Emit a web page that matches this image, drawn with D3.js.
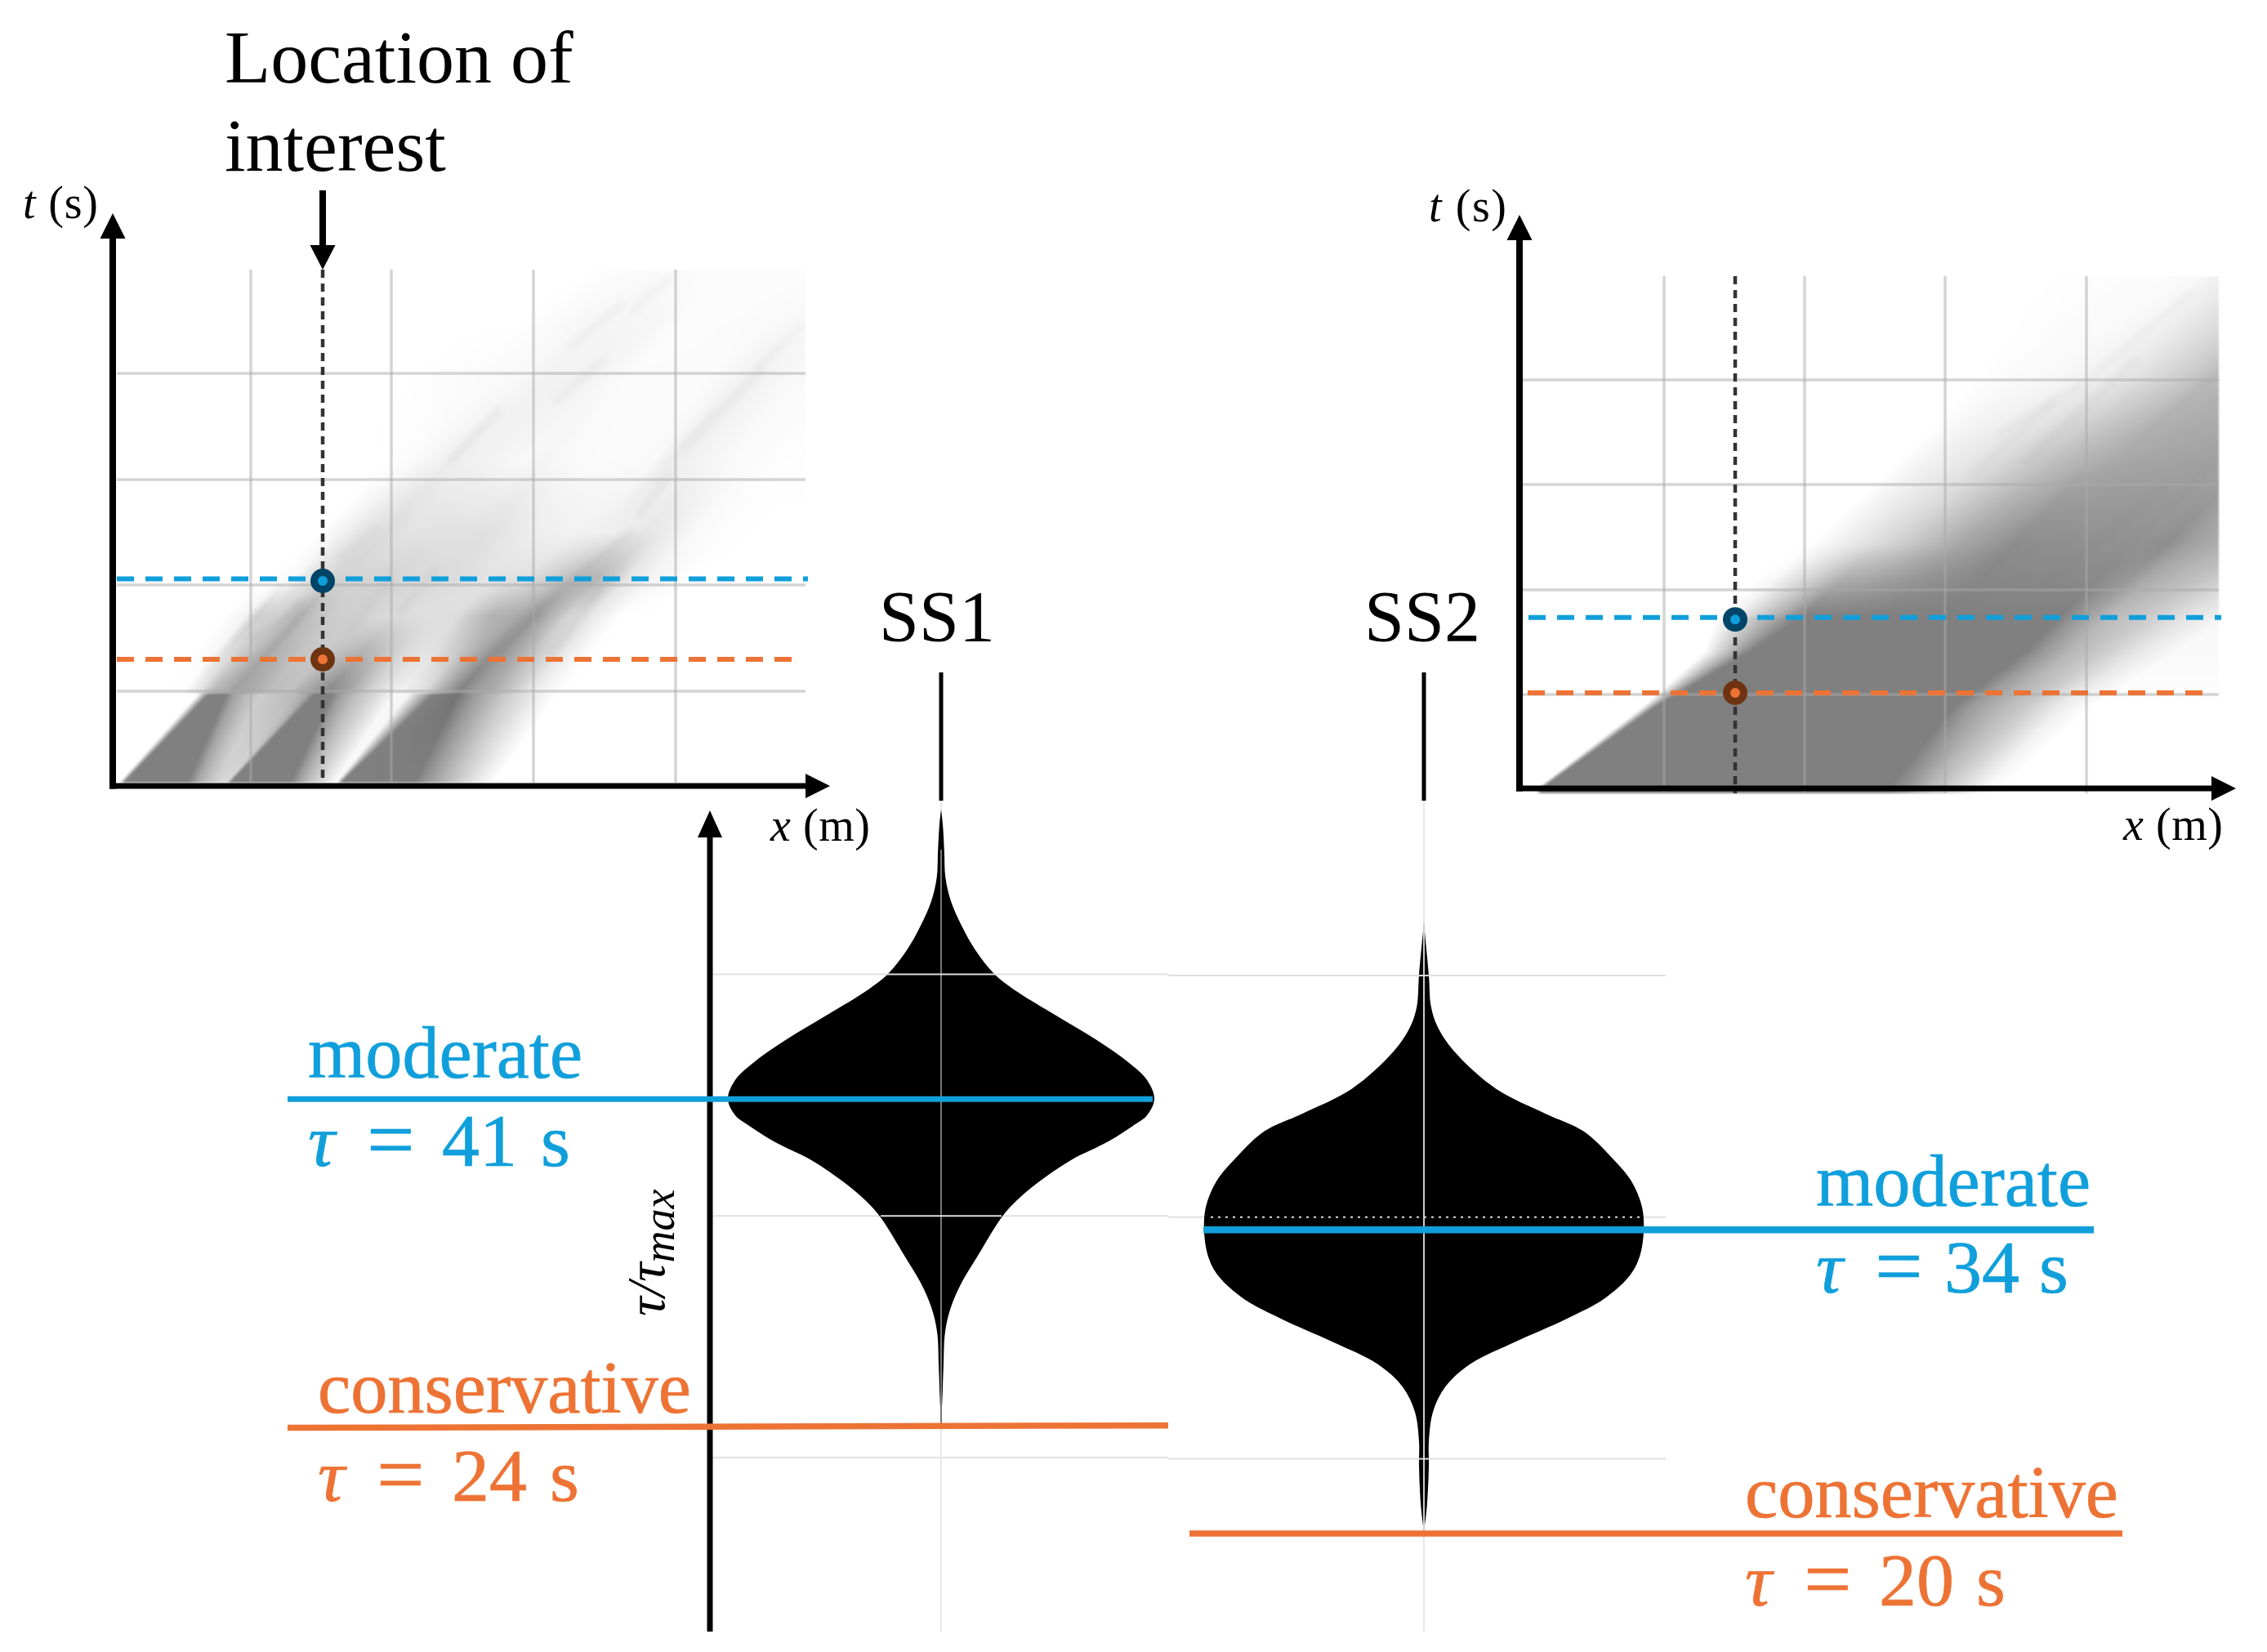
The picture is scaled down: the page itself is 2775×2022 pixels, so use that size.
<!DOCTYPE html>
<html><head><meta charset="utf-8">
<style>
html,body{margin:0;padding:0;background:#fff}
svg{display:block}
text{font-family:"Liberation Serif",serif}
</style>
<script src="https://cdn.jsdelivr.net/npm/d3@7"></script>
</head><body>
<svg id="c" width="2775" height="2022"></svg>
<script>
// ---------- space-time panels: density profiles read row by row ----------
// rows: [t, [x, density, x, density, ...]]; density 1 = the solid grey of the plumes
const gridX1 = [169, 341, 515, 689];
const gridT1 = [116, 246, 375, 505];
const gridX2 = [177, 349, 521, 694];
const gridT2 = [115, 243, 372, 500];
const tauLine1 = [155, 253.5];
const tauLine2 = [117, 209.3];

// lower block: knots move from row to row
const p1Lower = [
  [0,  [3,0, 9,1, 89,1, 102,.67, 115,.47, 125,.35, 134,.28, 135,.28, 139,1, 215,1, 222,.8, 235,.53, 255,.24, 268,.05, 270,.05, 274,1, 367,1, 374,.9, 397,.63, 422,.37, 447,.13, 465,0]],
  [113,[104,0, 117,1, 139,1, 148,.75, 165,.53, 180,.4, 225,.55, 238,.7, 247,1, 268,1, 279,.75, 295,.53, 312,.4, 345,.05, 362,.08, 393,1, 422,1.1, 442,.8, 462,.6, 482,.4, 522,.13, 545,0]]
];
// upper block: rows blended along the streak direction
const p1Upper = [
  [115,[85,0, 102,.18, 119,.53, 145,.75, 169,.67, 189,.53, 215,.5, 235,.7, 262,.95, 285,.75, 312,.37, 335,.18, 352,.1, 379,.24, 402,.67, 422,1, 439,.8, 462,.67, 489,.4, 509,.18, 535,.05, 555,0]],
  [208,[135,0, 162,.1, 175,.4, 202,.35, 229,.65, 242,.5, 269,.4, 302,.36, 335,.3, 369,.26, 402,.25, 422,.28, 442,.45, 462,.6, 489,.65, 515,.8, 535,.6, 555,.35, 582,.2, 602,.1, 622,0]],
  [254,[189,0, 222,.05, 235,.2, 269,.35, 302,.33, 335,.35, 369,.3, 422,.27, 455,.22, 505,.25, 535,.4, 562,.55, 589,.6, 609,.45, 629,.2, 655,.1, 689,.03, 710,0]],
  [312,[252,0, 279,.1, 302,.2, 335,.28, 362,.22, 462,.24, 512,.14, 562,.1, 629,.14, 652,.2, 679,.15, 712,.05, 745,.02, 790,0]],
  [399,[330,0, 362,.03, 412,.13, 462,.1, 505,.05, 529,.08, 549,.05, 595,.03, 662,.05, 682,.15, 712,.1, 762,.04, 829,.01, 900,.01]],
  [499,[362,0, 395,.02, 495,.05, 529,.1, 579,.1, 629,.03, 679,.03, 729,.03, 779,.12, 829,.05, 900,.03]],
  [565,[495,0, 562,.06, 612,.08, 662,.07, 695,.02, 762,.03, 829,.06, 900,.06]],
  [632,[579,0, 629,.03, 679,.05, 729,.02, 779,.02, 900,.02]]
];
const p1Streaks = [
  [415,399,472,459,.08],[542,472,602,522,.06],[562,539,622,589,.06],[635,579,679,619,.05],
  [699,415,795,509,.05],[789,512,845,565,.04],[645,332,680,379,.08],[472,165,522,212,.12],
  [515,209,635,312,.1],[539,162,595,239,.08],[292,195,335,245,.06],[352,212,395,265,.06],
  [279,279,322,315,.06],[172,179,229,222,.12]
];

const p2Lower = [
  [0,  [20,0, 26,1, 450,1, 470,.85, 500,.55, 535,.3, 570,.05, 590,0]],
  [100,[150,0, 165,1, 530,1, 553,.78, 587,.58, 620,.42, 660,.15, 700,0]],
  [167,[225,0, 280,1, 617,1, 643,.78, 675,.56, 712,.41, 758,.18, 802,.05]],
  [210,[240,0, 345,1, 660,1, 687,.78, 720,.55, 770,.4, 820,.2, 870,.05]]
];
const p2Upper = [
  [210,[240,0, 262,.12, 285,.35, 315,.65, 345,1, 660,1, 687,.78, 720,.55, 770,.4, 820,.2, 870,.08]],
  [300,[355,0, 400,.15, 470,.4, 540,.7, 610,.9, 760,.85, 790,.9, 820,.75, 853,.65, 900,.55, 950,.4]],
  [420,[480,0, 520,.1, 587,.2, 637,.35, 687,.5, 753,.65, 787,.68, 853,.72, 900,.7, 950,.65, 1000,.6]],
  [510,[560,0, 600,.03, 653,.05, 687,.08, 720,.12, 753,.2, 787,.3, 820,.4, 853,.52, 900,.6, 950,.6]],
  [627,[640,0, 680,.01, 720,.02, 750,.03, 780,.03, 810,.04, 830,.05, 850,.1, 900,.2, 950,.3, 1000,.3]]
];
const p2Streaks = [
  [560,262,687,384,.07],[653,253,787,368,.08],[720,270,853,400,.08],[553,384,653,474,.05],
  [703,507,820,605,.05],[620,400,753,523,.06],[753,425,853,507,.06],[587,433,687,494,.05]
];

// ---------- violins: tau/tauMax and density ----------
const ss1Tau = [.9204,.9043,.8763,.8509,.8256,.8003,.775,.7505,.7327,.7082,.6829,.6592,.6406,.6212,.6043,.5933,.5772,.5578,.5349,.5155,.4986,.4588,.4309,.4056,.3802,.3439,.3126,.283];
const ss1Den = [0,.008,.015,.02,.046,.096,.161,.249,.352,.533,.724,.877,.966,1,.966,.9,.785,.609,.456,.352,.284,.172,.096,.046,.019,.011,.006,0];
const ss2Tau = [.8026,.7492,.7171,.6964,.6705,.6317,.6058,.5877,.5618,.536,.5101,.4857,.4583,.4376,.4143,.3936,.3703,.347,.3237,.2978,.2667,.2409,.1994,.1736];
const ss2Den = [0,.023,.033,.063,.141,.337,.571,.748,.875,.973,1.022,1.031,1.012,.963,.845,.669,.434,.219,.102,.043,.023,.023,.014,0];
const violinTicks = [.25,.5,.75];
const ss1Moderate = .621, ss1Conservative = [.2808,.2833];
const ss2Moderate = .4857, ss2Conservative = .1715;

const labelModerate = "moderate", labelConservative = "conservative";
const tauTexts = ["41","24","34","20"];

// ---------- drawing ----------
const BLUE="#109fdb", ORANGE="#ed7335";
const svg = d3.select("#c");
const defs = svg.append("defs");
[["b1",.9],["b2",3]].forEach(([id,s])=>{
  defs.append("filter").attr("id",id).attr("x","-5%").attr("y","-5%").attr("width","110%").attr("height","110%")
    .attr("color-interpolation-filters","sRGB")
    .append("feGaussianBlur").attr("stdDeviation",s);
});

function arrow(g,x1,y1,x2,y2,w,len,half){
  const a=Math.atan2(y2-y1,x2-x1),c=Math.cos(a),s=Math.sin(a);
  g.append("line").attr("x1",x1).attr("y1",y1).attr("x2",x2-c*len).attr("y2",y2-s*len)
    .attr("stroke","#000").attr("stroke-width",w);
  const bx=x2-c*len,by=y2-s*len;
  g.append("polygon").attr("points",[[x2,y2],[bx-s*half,by+c*half],[bx+s*half,by-c*half]].map(p=>p.join(",")).join(" "));
}

const profile=(row)=>{
  const k=row[1],xs=[],ds=[];
  for(let i=0;i<k.length;i+=2){xs.push(k[i]);ds.push(k[i+1]);}
  return d3.scaleLinear().domain(xs).range(ds).clamp(true);
};
function densityAt(cfg){
  const up=cfg.upper.map(profile);
  return function(x,tv){
    const L=cfg.lower;
    if(tv<=L[L.length-1][0]){
      let i=0; while(i<L.length-2 && tv>L[i+1][0]) i++;
      const a=L[i],b=L[i+1],f=Math.max(0,(tv-a[0])/(b[0]-a[0]));
      const k=a[1].map((v,j)=>v+(b[1][j]-v)*f);
      return profile([0,k])(x);
    }
    const U=cfg.upper; let i=0;
    while(i<U.length-2 && tv>U[i+1][0]) i++;
    const a=U[i],b=U[i+1],f=Math.min(1,Math.max(0,(tv-a[0])/(b[0]-a[0])));
    return up[i](x-(tv-a[0])/cfg.slope)*(1-f)+up[i+1](x+(b[0]-tv)/cfg.slope)*f;
  };
}

function panel(cfg){
  const x=d3.scaleLinear().domain([0,cfg.xMax]).range([cfg.x0,cfg.x0+cfg.xMax]);
  const t=d3.scaleLinear().domain([0,cfg.tMax]).range([cfg.y0,cfg.y0-cfg.tMax]);
  const g=svg.append("g");
  const L=cfg.clipL,R=cfg.x0+cfg.xMax,T=cfg.y0-cfg.tMax,B=cfg.gridB;
  const W=R-L,H=B-T;
  const cv=document.createElement("canvas");cv.width=W;cv.height=H;
  const ctx=cv.getContext("2d"),im=ctx.createImageData(W,H);
  const den=densityAt(cfg);
  for(let py=0;py<H;py++){
    const tv=Math.max(0,t.invert(T+py));
    for(let px=0;px<W;px++){
      const d=den(x.invert(L+px),tv);
      const v=Math.max(0,255-d*127),o=(py*W+px)*4;
      im.data[o]=im.data[o+1]=im.data[o+2]=v;im.data[o+3]=255;
    }
  }
  ctx.putImageData(im,0,0);
  g.append("image").attr("x",L).attr("y",T).attr("width",W).attr("height",H)
    .attr("href",cv.toDataURL()).attr("filter","url(#b1)");
  // fine streaks
  const cid="clip"+cfg.id;
  defs.append("clipPath").attr("id",cid).append("rect").attr("x",L).attr("y",T).attr("width",W).attr("height",H);
  g.append("g").attr("clip-path",`url(#${cid})`).append("g").attr("filter","url(#b2)")
    .selectAll("line").data(cfg.streaks).join("line")
    .attr("x1",d=>x(d[0])).attr("y1",d=>t(d[1])).attr("x2",d=>x(d[2])).attr("y2",d=>t(d[3]))
    .attr("stroke","#808080").attr("stroke-width",10).attr("stroke-linecap","round").attr("stroke-opacity",d=>d[4]);
  // grid
  const gs=g.append("g").attr("stroke","#aaa").attr("stroke-opacity",.5).attr("stroke-width",3.5);
  gs.selectAll("line.v").data(cfg.gridX).join("line").attr("class","v")
    .attr("x1",x).attr("x2",x).attr("y1",T).attr("y2",B);
  gs.selectAll("line.h").data(cfg.gridT).join("line").attr("class","h")
    .attr("x1",L).attr("x2",R).attr("y1",t).attr("y2",t);
  // location line
  g.append("line").attr("x1",cfg.locX).attr("x2",cfg.locX).attr("y1",T).attr("y2",B)
    .attr("stroke","#333").attr("stroke-width",4.5).attr("stroke-dasharray","10 7");
  // thresholds
  [[cfg.tau[0],ORANGE,cfg.oL,cfg.oR],[cfg.tau[1],BLUE,cfg.bL,cfg.bR]].forEach(([v,c,a,b])=>{
    g.append("line").attr("x1",a).attr("x2",b).attr("y1",t(v)).attr("y2",t(v))
      .attr("stroke",c).attr("stroke-width",6).attr("stroke-dasharray","21 14");
  });
  [[cfg.tau[0],"#6e3412",ORANGE,0],[cfg.tau[1],"#004468",BLUE,2.5]].forEach(([v,o,i,dy])=>{
    g.append("circle").attr("cx",cfg.locX).attr("cy",t(v)+dy).attr("r",15).attr("fill",o);
    g.append("circle").attr("cx",cfg.locX).attr("cy",t(v)+dy).attr("r",6).attr("fill",i);
  });
  // axes
  arrow(g,cfg.x0,cfg.y0+3.5,cfg.x0,cfg.axTop,8,31,15.5);
  arrow(g,cfg.x0-4,cfg.y0,cfg.axRight,cfg.y0,7,30,15);
}

panel({id:1,xMax:848,tMax:632,x0:138,y0:962,clipL:143,gridB:958,slope:1.15,
  gridX:gridX1,gridT:gridT1,lower:p1Lower,upper:p1Upper,streaks:p1Streaks,
  tau:tauLine1,locX:395,oL:143,oR:975,bL:143,bR:989,axTop:261,axRight:1016});
panel({id:2,xMax:856,tMax:627,x0:1860,y0:965,clipL:1864,gridB:971,slope:.95,
  gridX:gridX2,gridT:gridT2,lower:p2Lower,upper:p2Upper,streaks:p2Streaks,
  tau:tauLine2,locX:2124,oL:1870,oR:2703,bL:1871,bR:2719,axTop:263,axRight:2737});

// location arrow
arrow(svg.append("g"),395,233,395,330,8,30,15.5);

// violins
const yV=d3.scaleLinear().domain([0,1]).range([2079.8,896.8]);
const wV=d3.scaleLinear().domain([0,1]).range([0,261]);
const gV=svg.append("g");
function violin(cx,taus,dens){
  const rows=taus.map((v,i)=>({v,d:dens[i]}));
  gV.append("line").attr("x1",cx).attr("x2",cx).attr("y1",980).attr("y2",1997).attr("stroke","#e8e8e8").attr("stroke-width",2);
  gV.append("path").datum(rows).attr("fill","#000")
    .attr("d",d3.area().y(d=>yV(d.v)).x0(d=>cx-wV(d.d)).x1(d=>cx+wV(d.d)).curve(d3.curveCatmullRom.alpha(.5)));
}
violinTicks.forEach(v=>{
  [[873,1430,0],[1430,2039,1.5]].forEach(([a,b,off])=>{
    gV.append("line").attr("x1",a).attr("x2",b).attr("y1",yV(v)+off).attr("y2",yV(v)+off).attr("stroke","#e0e0e0").attr("stroke-width",2);
  });
});
violin(1152,ss1Tau,ss1Den);
violin(1743,ss2Tau,ss2Den);
// grid showing through the violins
const thru=(a,b,y1,y2,c,w,dash)=>gV.append("line").attr("x1",a).attr("x2",b).attr("y1",y1).attr("y2",y2).attr("stroke",c).attr("stroke-width",w).attr("stroke-dasharray",dash||null);
thru(1152,1152,1040,1745,"#777",2);
thru(1743,1743,1130,1875,"#ccc",2);
thru(1084,1220,yV(.75),yV(.75),"#ddd",2);
thru(1078,1226,yV(.5),yV(.5),"#ddd",2);
thru(1482,2010,yV(.5)+1.5,yV(.5)+1.5,"#ddd",2,"3 6");
thru(1735,1751,yV(.75)+1.5,yV(.75)+1.5,"#ddd",2);
thru(1735,1751,yV(.25)+1.5,yV(.25)+1.5,"#ddd",2);

// tau axis
arrow(svg.append("g"),869,1997,869,992,7,33,15);

// SS ticks
[[1152,"SS1",1147],[1743,"SS2",1741]].forEach(([x,lab,tx])=>{
  svg.append("line").attr("x1",x).attr("x2",x).attr("y1",823).attr("y2",980).attr("stroke","#000").attr("stroke-width",5);
  svg.append("text").attr("x",tx).attr("y",784).attr("text-anchor","middle").attr("font-size",88).text(lab);
});

// threshold lines on the violins
const hl=(a,b,y1,y2,c,w)=>svg.append("line").attr("x1",a).attr("x2",b).attr("y1",y1).attr("y2",y2).attr("stroke",c).attr("stroke-width",w);
hl(352,1411,yV(ss1Moderate),yV(ss1Moderate),BLUE,7);
hl(352,1430,yV(ss1Conservative[0]),yV(ss1Conservative[1]),ORANGE,7.5);
hl(1473,2563,yV(ss2Moderate),yV(ss2Moderate),BLUE,8.5);
hl(1456,2598,yV(ss2Conservative),yV(ss2Conservative),ORANGE,7.5);

// texts
const T=(x,y,s,fs,c)=>svg.append("text").attr("x",x).attr("y",y).attr("font-size",fs).attr("fill",c||"#000").text(s);
T(275,101,"Location of",92);
T(275,209,"interest",92);
function axisLabel(x,y,v,u,len){
  const t=svg.append("text").attr("x",x).attr("y",y).attr("font-size",56).attr("textLength",len).attr("lengthAdjust","spacing");
  t.append("tspan").attr("font-style","italic").text(v);
  t.append("tspan").text(" ("+u+")");
}
axisLabel(28,267,"t","s",92);
axisLabel(1749,271,"t","s",95);
axisLabel(943,1029,"x","m",122);
axisLabel(2599,1028,"x","m",122);

function word(x,y,s,c,len){
  svg.append("text").attr("x",x).attr("y",y).attr("font-size",90).attr("fill",c).attr("stroke",c).attr("stroke-width",.7)
    .attr("textLength",len).attr("lengthAdjust","spacingAndGlyphs").text(s);
}
function tauText(x,y,v,c,numOff,sOff){
  const t=svg.append("text").attr("font-size",92).attr("fill",c).attr("stroke",c).attr("stroke-width",.7);
  t.append("tspan").attr("x",x).attr("y",y).attr("font-style","italic").text("τ");
  t.append("tspan").attr("x",x+72).attr("y",y+3).attr("font-size",104).text("=");
  t.append("tspan").attr("x",x+numOff).attr("y",y).text(v);
  t.append("tspan").attr("x",x+sOff).attr("y",y).text("s");
}
word(377,1319,labelModerate,BLUE,336);
tauText(377,1427,tauTexts[0],BLUE,164,285);
word(389,1729,labelConservative,ORANGE,457);
tauText(389,1837,tauTexts[1],ORANGE,164,284);
word(2223,1476,labelModerate,BLUE,336);
tauText(2223,1582,tauTexts[2],BLUE,157,273);
word(2136,1857,labelConservative,ORANGE,457);
tauText(2136,1965,tauTexts[3],ORANGE,164,283);

// rotated tau label
const rl=svg.append("text").attr("transform","translate(813,1611) rotate(-90)").attr("font-size",66).attr("font-style","italic");
rl.append("tspan").text("τ/τ");
rl.append("tspan").attr("font-size",54).attr("dy",12).text("max");
</script>
</body></html>
